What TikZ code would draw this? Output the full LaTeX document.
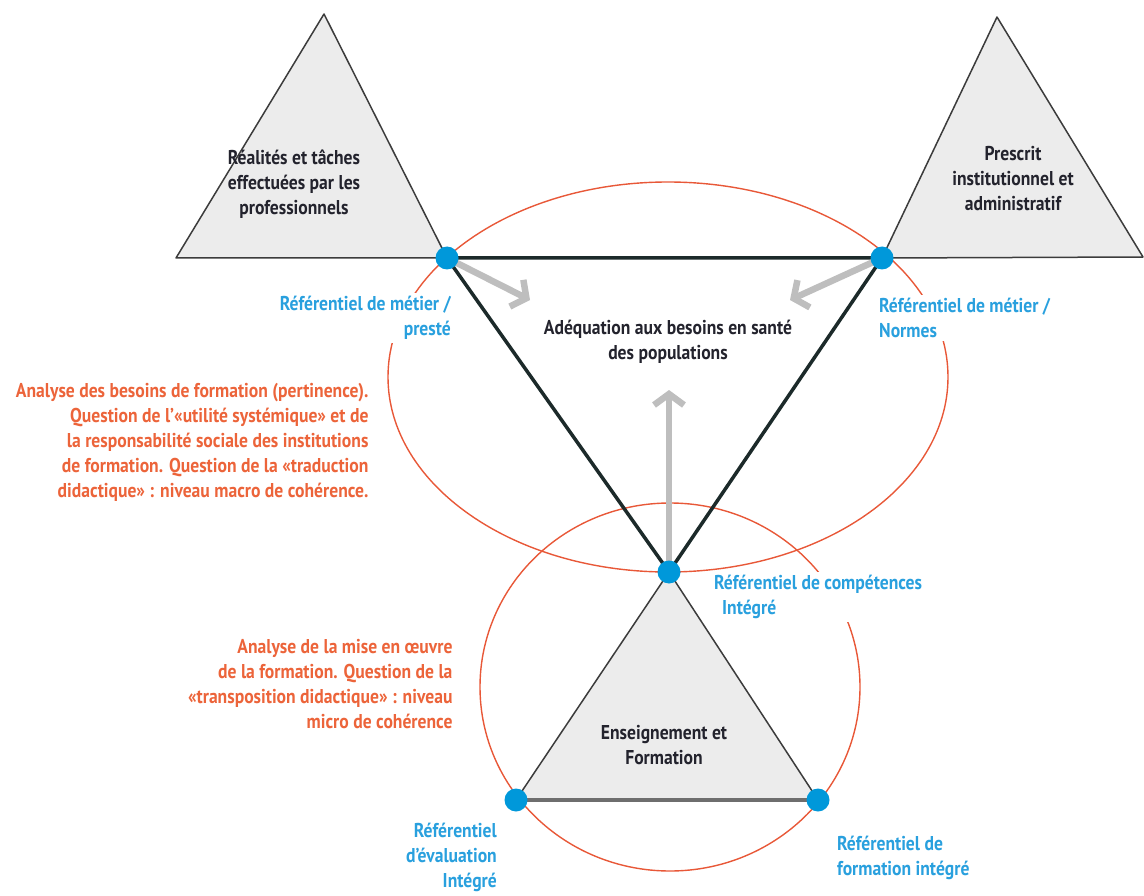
\documentclass[tikz,border=0pt]{standalone}
\usepackage{fontspec}
\setmainfont{PT Sans}[FakeStretch=0.88]
\usetikzlibrary{arrows.meta}

\definecolor{polegray}{RGB}{236,236,236}
\definecolor{edgegray}{RGB}{60,60,60}
\definecolor{basegray}{RGB}{110,110,110}
\definecolor{spinedark}{RGB}{28,42,42}
\definecolor{ringred}{RGB}{232,88,56}
\definecolor{refblue}{RGB}{0,152,218}
\definecolor{reftxt}{RGB}{41,160,222}
\definecolor{notered}{RGB}{236,100,58}
\definecolor{arrowgray}{RGB}{190,190,190}
\definecolor{textdark}{RGB}{35,35,45}

\begin{document}
\begin{tikzpicture}[x=1pt,y=-1pt,
    every node/.style={font=\fontsize{20}{25}\selectfont\bfseries},
    refdot/.style={circle,fill=refblue,inner sep=0pt,minimum size=23pt},
    reftext/.style={text=reftxt,fill=white,inner sep=3pt},
    note/.style={text=notered,align=right,anchor=east},
    poletext/.style={text=textdark,align=center},
    pole/.style={fill=polegray,draw=edgegray,line width=1.5pt,line join=round},
    spine/.style={draw=spinedark,line width=3.5pt,line join=round},
    ring/.style={draw=ringred,line width=1.4pt},
    push/.style={draw=arrowgray,line width=6.5pt,-{Straight Barb[length=11pt,width=30pt]}}]

  \useasboundingbox (0,0) rectangle (1144,896);

  % points of the three referentials
  \coordinate (metier) at (447,258);
  \coordinate (normes) at (882,258);
  \coordinate (comp) at (669,572);
  \coordinate (eval) at (516,800);
  \coordinate (form) at (818,800);
  \coordinate (realtop) at (324,14);
  \coordinate (realleft) at (176,258);
  \coordinate (prestop) at (997,17);
  \coordinate (presright) at (1143,257);

  % the two loops of coherence
  \draw[ring] (668,377) ellipse [x radius=280pt, y radius=195pt];
  \draw[ring] (670,687) ellipse [x radius=190pt, y radius=184pt];

  % poles
  \filldraw[pole] (realtop) -- (realleft) -- (metier) -- cycle;
  \filldraw[pole] (prestop) -- (normes) -- (presright) -- cycle;
  \filldraw[pole] (comp) -- (eval) -- (form) -- cycle;
  \draw[draw=basegray,line width=4pt] (eval) -- (form);

  \node[poletext] (reel) at (294,184) {Réalités et tâches\\effectuées par les\\professionnels};
  \node[poletext] (prescrit) at (1013,179) {Prescrit\\institutionnel et\\administratif};
  \node[poletext] (enseign) at (664,745) {Enseignement et\\Formation};

  \draw[spine] (metier) -- (normes) -- (comp) -- cycle;

  % adequation
  \coordinate (tipA) at (530,300);
  \coordinate (tipB) at (790,300);
  \coordinate (tipC) at (669,390);
  \draw[push] (metier) -- (tipA);
  \draw[push] (normes) -- (tipB);
  \draw[push] (comp) -- (tipC);
  \node[poletext] (adequ) at (668,342) {Adéquation aux besoins en santé\\des populations};

  % labels of the referentials
  \node[reftext,align=right,anchor=east] (metierlab) at (454,318) {Référentiel de métier /\\presté};
  \node[reftext,align=left,anchor=west] (normeslab) at (876,318) {Référentiel de métier /\\Normes};
  \node[reftext,align=left,anchor=west] (complab) at (711,597) {Référentiel de compétences\\\hspace{8pt}Intégré};
  \node[reftext,align=right,anchor=east] (evallab) at (500,857) {Référentiel\\d’évaluation\\Intégré};
  \node[reftext,align=left,anchor=west] (formlab) at (834,858) {Référentiel de\\formation intégré};

  \node[refdot] (dotmetier) at (metier) {};
  \node[refdot] (dotnormes) at (normes) {};
  \node[refdot] (dotcomp) at (comp) {};
  \node[refdot] (doteval) at (eval) {};
  \node[refdot] (dotform) at (form) {};

  % levels of coherence
  \node[note] (macro) at (372,442) {Analyse des besoins de formation (pertinence).\\Question de l’«utilité systémique» et de\\la responsabilité sociale des institutions\\de formation. Question de la «traduction\\didactique» : niveau macro de cohérence.};
  \node[note] (micro) at (456,684) {Analyse de la mise en œuvre\\de la formation. Question de la\\«transposition didactique» : niveau\\micro de cohérence};

\end{tikzpicture}
\end{document}
